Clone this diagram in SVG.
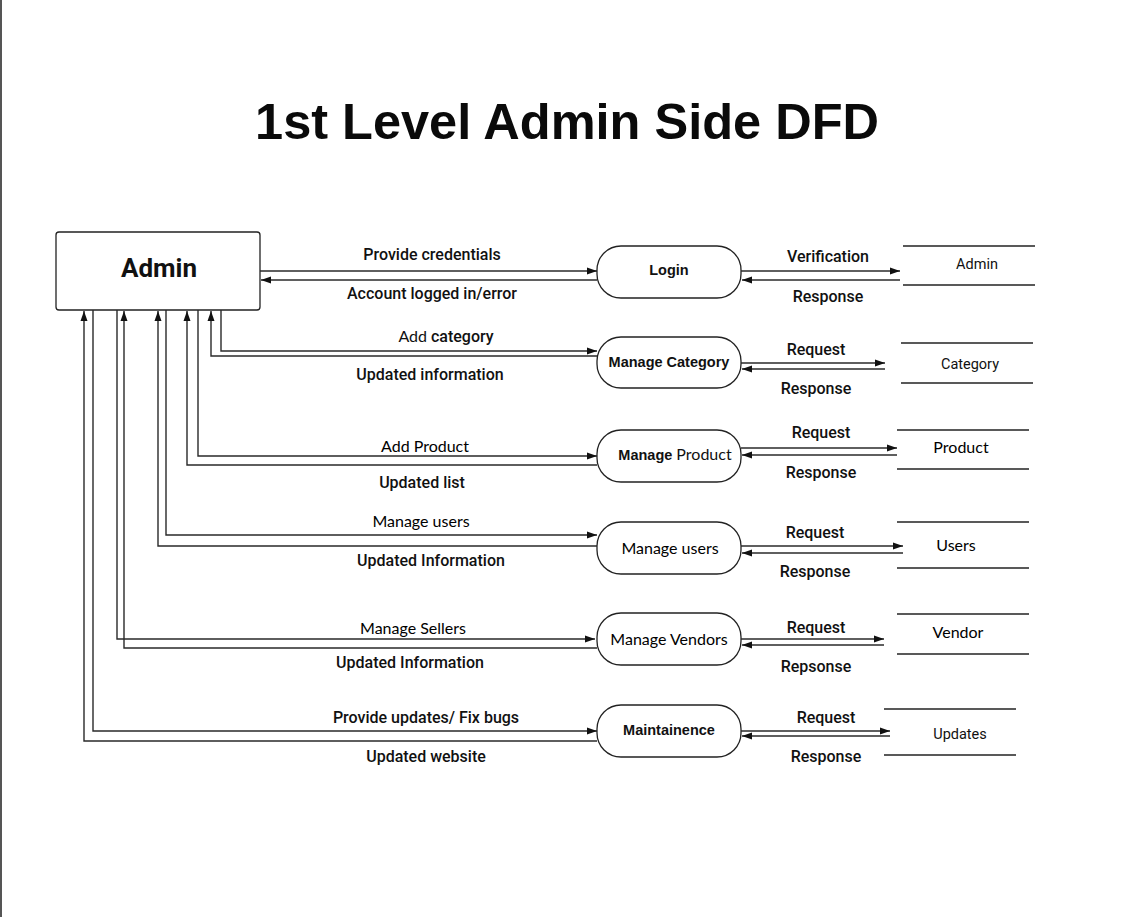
<svg xmlns="http://www.w3.org/2000/svg" width="1128" height="917" viewBox="0 0 1128 917">
<defs>
<marker id="arr" markerUnits="userSpaceOnUse" markerWidth="10" markerHeight="8" refX="10" refY="4" orient="auto">
<path d="M0,0.5 L10,4 L0,7.5 z" fill="#111"/>
</marker>
<style>
.ln{fill:none;stroke:#2a2a2a;stroke-width:1.4}
.fl{fill:none;stroke:#2a2a2a;stroke-width:1.4;marker-end:url(#arr)}
.proc{fill:#fff;stroke:#222;stroke-width:1.3}
.store{stroke:#222;stroke-width:1.5}
.rb{font-family:Roboto,"Liberation Sans",sans-serif;font-weight:500;font-size:16px;fill:#111;text-anchor:middle}
.rr{font-family:Roboto,"Liberation Sans",sans-serif;font-weight:400;font-size:14.5px;fill:#111;text-anchor:middle}
.cal{font-family:Lato,"Open Sans",sans-serif;font-size:16px;fill:#000;text-anchor:middle}
.pb{font-family:"Liberation Sans",Arial,sans-serif;font-weight:bold;font-size:14.5px;fill:#111;text-anchor:middle}
</style>
</defs>
<rect width="1128" height="917" fill="#fff"/>
<line x1="1" y1="0" x2="1" y2="917" stroke="#555" stroke-width="2"/>
<text x="567" y="139" font-family="Liberation Sans,Arial,sans-serif" font-weight="bold" font-size="50.5" text-anchor="middle" fill="#0a0a0a">1st Level Admin Side DFD</text>

<g id="admin">
<rect x="56" y="232" width="204" height="78" rx="3" fill="#fff" stroke="#222" stroke-width="1.3"/>
<text x="159" y="277" font-family="Roboto,Liberation Sans,sans-serif" font-weight="bold" font-size="26" text-anchor="middle" fill="#111">Admin</text>
</g>

<g id="p-login"><rect class="proc" x="597" y="246" width="144" height="52" rx="24"/><text class="pb" x="669" y="275">Login</text></g>
<g id="p-category"><rect class="proc" x="597" y="337" width="144" height="51" rx="24"/><text class="pb" x="669" y="367">Manage Category</text></g>
<g id="p-product"><rect class="proc" x="597" y="430" width="144" height="52" rx="24"/><text class="pb" x="675" y="460">Manage <tspan font-family="Lato,Open Sans,sans-serif" font-weight="normal" font-size="16">Product</tspan></text></g>
<g id="p-users"><rect class="proc" x="597" y="522" width="144" height="52" rx="24"/><text class="cal" x="670" y="554">Manage users</text></g>
<g id="p-vendors"><rect class="proc" x="597" y="613" width="144" height="52" rx="24"/><text class="cal" x="669" y="645">Manage Vendors</text></g>
<g id="p-maint"><rect class="proc" x="597" y="705" width="144" height="52" rx="24"/><text class="pb" x="669" y="735">Maintainence</text></g>

<g id="s-admin"><line class="store" x1="903" y1="246" x2="1035" y2="246"/><line class="store" x1="903" y1="285" x2="1035" y2="285"/><text class="rr" x="977" y="269">Admin</text></g>
<g id="s-category"><line class="store" x1="901" y1="343" x2="1033" y2="343"/><line class="store" x1="901" y1="383" x2="1033" y2="383"/><text class="rr" x="970" y="369">Category</text></g>
<g id="s-product"><line class="store" x1="897" y1="430" x2="1029" y2="430"/><line class="store" x1="897" y1="469" x2="1029" y2="469"/><text class="cal" x="961" y="453">Product</text></g>
<g id="s-users"><line class="store" x1="897" y1="522" x2="1029" y2="522"/><line class="store" x1="897" y1="568" x2="1029" y2="568"/><text class="cal" x="956" y="551">Users</text></g>
<g id="s-vendor"><line class="store" x1="897" y1="614" x2="1029" y2="614"/><line class="store" x1="897" y1="654" x2="1029" y2="654"/><text class="cal" x="958" y="638">Vendor</text></g>
<g id="s-updates"><line class="store" x1="884" y1="709" x2="1016" y2="709"/><line class="store" x1="884" y1="755" x2="1016" y2="755"/><text class="rr" x="960" y="739">Updates</text></g>

<g id="connectors">
<path class="fl" d="M260,271 H597"/>
<path class="fl" d="M597,280 H261"/>
<path class="fl" d="M741,271 H900"/>
<path class="fl" d="M900,280 H742"/>
<path class="fl" d="M221,310 V351 H597"/>
<path class="fl" d="M597,356 H211 V311"/>
<path class="fl" d="M741,363 H885"/>
<path class="fl" d="M885,369 H742"/>
<path class="fl" d="M198,310 V456 H597"/>
<path class="fl" d="M597,465 H187 V311"/>
<path class="fl" d="M741,448 H897"/>
<path class="fl" d="M897,455 H742"/>
<path class="fl" d="M166,310 V535 H597"/>
<path class="fl" d="M597,546 H158 V311"/>
<path class="fl" d="M741,546 H903"/>
<path class="fl" d="M903,553 H742"/>
<path class="fl" d="M117,310 V639 H595"/>
<path class="fl" d="M597,648 H124 V311"/>
<path class="fl" d="M741,639 H884"/>
<path class="fl" d="M884,645 H742"/>
<path class="fl" d="M93,310 V731 H597"/>
<path class="fl" d="M597,741 H84 V311"/>
<path class="fl" d="M741,731 H890"/>
<path class="fl" d="M890,736 H742"/>
</g>

<g id="labels">
<text class="rb" x="432" y="260">Provide credentials</text>
<text class="rb" x="432" y="299">Account logged in/error</text>
<text class="rb" x="446" y="342"><tspan font-family="Lato,Open Sans,sans-serif" font-weight="normal">Add</tspan> category</text>
<text class="rb" x="430" y="380">Updated information</text>
<text class="cal" x="425" y="452">Add Product</text>
<text class="rb" x="422" y="488">Updated list</text>
<text class="cal" x="421" y="527">Manage users</text>
<text class="rb" x="431" y="566">Updated Information</text>
<text class="cal" x="413" y="634">Manage Sellers</text>
<text class="rb" x="410" y="668">Updated Information</text>
<text class="rb" x="426" y="723">Provide updates/ Fix bugs</text>
<text class="rb" x="426" y="762">Updated website</text>

<text class="rb" x="828" y="262">Verification</text>
<text class="rb" x="828" y="302">Response</text>
<text class="rb" x="816" y="355">Request</text>
<text class="rb" x="816" y="394">Response</text>
<text class="rb" x="821" y="438">Request</text>
<text class="rb" x="821" y="478">Response</text>
<text class="rb" x="815" y="538">Request</text>
<text class="rb" x="815" y="577">Response</text>
<text class="rb" x="816" y="633">Request</text>
<text class="rb" x="816" y="672">Repsonse</text>
<text class="rb" x="826" y="723">Request</text>
<text class="rb" x="826" y="762">Response</text>
</g>
</svg>
